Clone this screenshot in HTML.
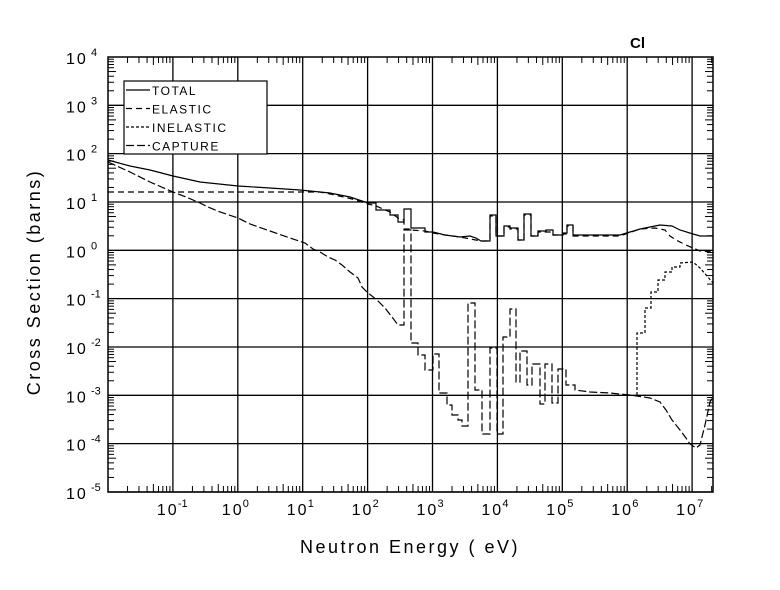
<!DOCTYPE html>
<html><head><meta charset="utf-8"><style>
html,body{margin:0;padding:0;background:#fff;}
svg{display:block;font-family:"Liberation Sans",sans-serif;}
</style></head><body>
<svg id="s" width="780" height="590" xmlns="http://www.w3.org/2000/svg"></svg>
<script>
var L=108,R=713,T=57,B=492;
function X(e){return L+(e+2)*64.9;}
function Y(e){return T+(4-e)*48.33;}
var h='';
h+='<rect x="'+L+'" y="'+T+'" width="'+(R-L)+'" height="'+(B-T)+'" fill="none" stroke="#000" stroke-width="1.5"/>';
for(var d=-2;d<=7;d++){
 for(var m=1;m<10;m++){
  var x=X(d+Math.log10(m)); if(x<=L||x>=R) continue;
  if(m==1){h+='<line x1="'+x+'" y1="'+T+'" x2="'+x+'" y2="'+B+'" stroke="#000" stroke-width="1.3"/>';}
  else{var l=(m==5)?8:6;h+='<line x1="'+x+'" y1="'+T+'" x2="'+x+'" y2="'+(T+l)+'" stroke="#000"/><line x1="'+x+'" y1="'+B+'" x2="'+x+'" y2="'+(B-l)+'" stroke="#000"/>';}
 }
}
for(var d=-5;d<=4;d++){
 for(var m=1;m<10;m++){
  var y=Y(d+Math.log10(m)); if(y<=T||y>=B) continue;
  if(m==1){h+='<line x1="'+L+'" y1="'+y+'" x2="'+R+'" y2="'+y+'" stroke="#000" stroke-width="1.3"/>';}
  else{var l=(m==5)?8:6;h+='<line x1="'+L+'" y1="'+y+'" x2="'+(L+l)+'" y2="'+y+'" stroke="#000"/><line x1="'+R+'" y1="'+y+'" x2="'+(R-l)+'" y2="'+y+'" stroke="#000"/>';}
 }
}
for(var d=4;d>=-5;d--){var y=Y(d);
 h+='<text x="66" y="'+(y+7)+'" font-size="16" letter-spacing="2">10</text><text x="91" y="'+(y-1)+'" font-size="11">'+d+'</text>';}
for(var d=-1;d<=7;d++){var x=X(d);
 h+='<text x="'+(x-16)+'" y="'+(B+23)+'" font-size="16" letter-spacing="2">10</text><text x="'+(x+5)+'" y="'+(B+15)+'" font-size="11">'+d+'</text>';}
h+='<text x="410" y="553" font-size="18" letter-spacing="2.5" text-anchor="middle">Neutron Energy ( eV)</text>';
h+='<text transform="translate(40,282) rotate(-90)" font-size="18" letter-spacing="2.5" text-anchor="middle">Cross Section (barns)</text>';
h+='<text x="630" y="48" font-size="15" font-weight="bold">Cl</text>';
function pl(p,da){return '<polyline fill="none" stroke="#000" stroke-width="1.2"'+(da?' stroke-dasharray="'+da+'"':'')+' points="'+p+'"/>';}
h+=pl('108,160 130,166 150,170 173,176 200,182 238,186 270,188 300,190 330,193 350,197 368,203 376,203 376,210 390,210 390,215 398,215 398,222 404,222 404,209 411,209 411,228 425,228 425,232 433,232 445,235 460,237 470,236 476,238 481,241 490,241 490,215 496,215 496,236 504,236 504,226 510,226 510,228 518,228 518,240 524,240 524,214 531,214 531,236 538,236 538,231 546,231 546,230 553,230 553,235 563,235 563,233 567,233 567,225 573,225 573,235 600,235 620,235 630,232 640,229 650,227 660,225 672,226 680,230 693,234 700,236 713,236');
h+=pl('108,192 320,192 335,195 352,199 368,204 376,206 390,212 398,218 404,220 404,229 411,229 411,230 425,231 433,233 445,235 460,237 481,241 490,241 490,216 496,216 496,236 504,236 504,227 510,227 510,229 518,229 518,240 524,240 524,215 531,215 531,236 538,236 538,232 553,232 553,235 563,235 563,234 567,234 567,226 573,226 573,236 620,236 640,229 655,228 665,230 670,236 676,240 686,245 693,248 700,251 713,252','6,4');
h+=pl('637,395 637,333 645,333 645,308 651,308 651,292 658,292 658,280 665,280 665,272 672,272 672,267 680,267 680,263 693,262 700,268 707,276 713,283','3,2');
h+=pl('108,162 130,172 150,182 173,192 186,197 200,203 208,207 220,212 238,218 250,224 270,231 290,238 305,243 313,249 320,252 328,257 335,260 342,265 350,272 358,278 362,287 368,293 377,300 385,308 392,317 398,325 404,325 404,230 411,230 411,343 418,343 418,355 425,355 425,370 433,370 433,354 439,354 439,393 447,393 447,405 452,405 452,415 458,415 458,420 462,420 462,426 468,426 468,303 475,303 475,390 482,390 482,434 490,434 490,348 497,348 497,434 503,434 503,337 510,337 510,309 516,309 516,382 520,382 520,351 527,351 527,385 532,385 532,364 540,364 540,404 545,404 545,364 552,364 552,403 558,403 558,369 566,369 566,385 575,385 575,390 590,392 610,393 630,395 650,398 660,402 666,410 672,420 680,430 686,438 690,444 696,448 700,445 705,425 710,402 713,397','8,3');
h+='<rect x="124" y="81" width="143" height="73" fill="#fff" stroke="#000" stroke-width="1.2"/>';
var ents=[['TOTAL',''],['ELASTIC','6,4'],['INELASTIC','3,2'],['CAPTURE','8,3']];
for(var i=0;i<4;i++){var y=90+i*18.5;
 h+='<line x1="126" y1="'+y+'" x2="150" y2="'+y+'" stroke="#000" stroke-width="1.2"'+(ents[i][1]?' stroke-dasharray="'+ents[i][1]+'"':'')+'/>';
 h+='<text x="152" y="'+(y+5)+'" font-size="12" letter-spacing="1.5">'+ents[i][0]+'</text>';}
document.getElementById('s').innerHTML=h;
</script>
</body></html>
